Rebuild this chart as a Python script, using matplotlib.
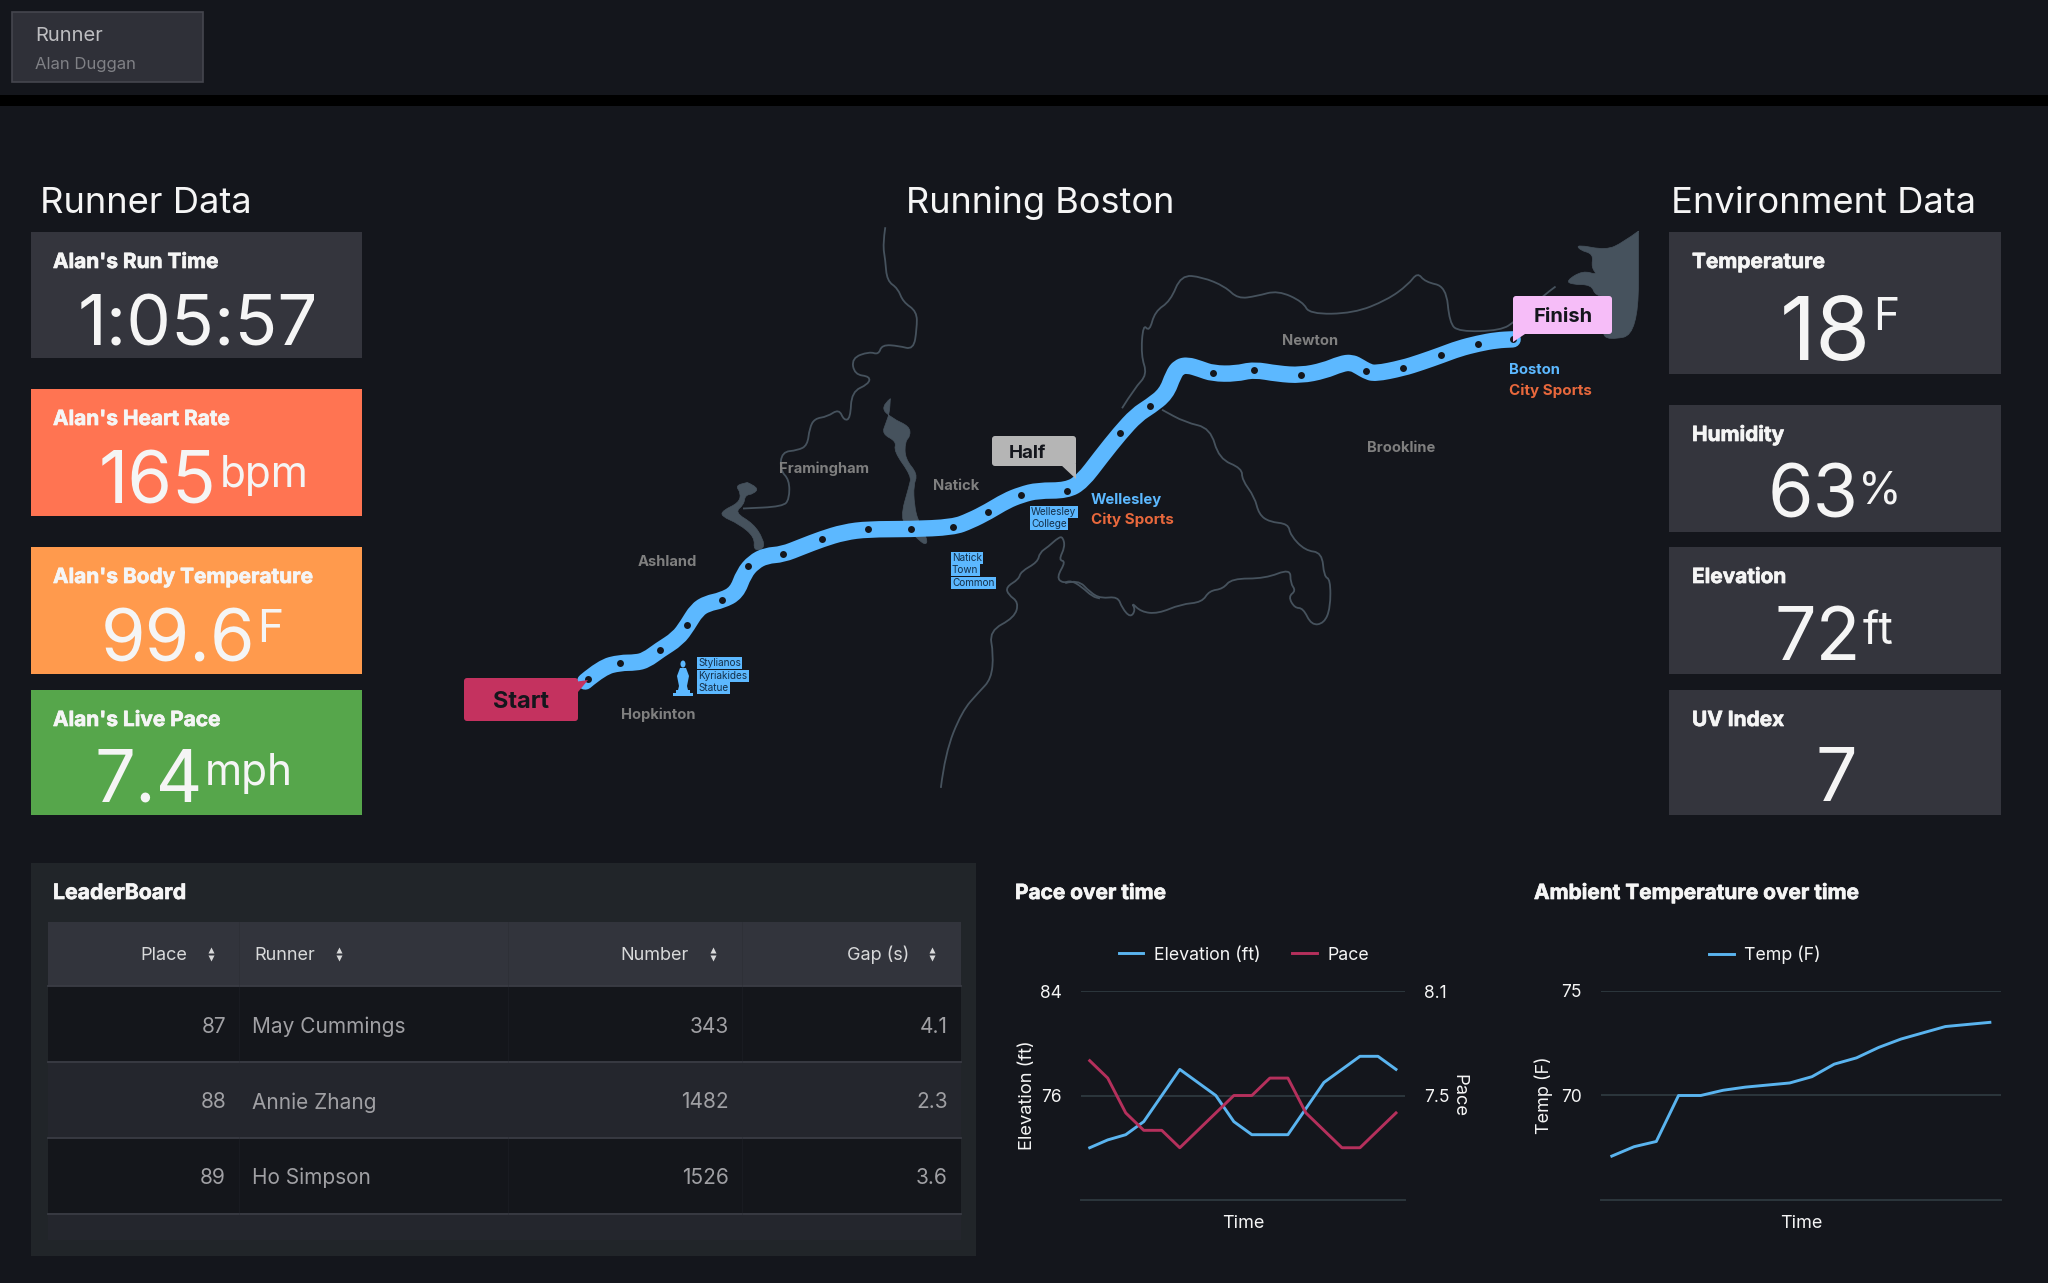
#!/usr/bin/env python3

import matplotlib
matplotlib.use("Agg")
import matplotlib.pyplot as plt
import matplotlib.patheffects as pe
from matplotlib.patches import FancyBboxPatch, Polygon, Rectangle, Ellipse, PathPatch
from matplotlib.path import Path

plt.rcParams['font.family'] = ['Inter', 'DejaVu Sans']

BG = '#14161c'
STAT_BG = '#34353d'
WHITE = '#f5f5f5'
BLUE = '#5cb8ff'
RED = '#c4325f'
ORANGE_TXT = '#e8683c'
GRID = '#2c363c'
RIVER = '#46525d'
WATER = '#46525d'
MAP_TXT = '#7f7f7f'

# pace chart
time_idx = list(range(18))
elevation = [72, 72.6, 73, 74, 76, 78, 77, 76, 74, 73, 73, 73, 75, 77, 78, 79, 79, 78]
pace = [7.7, 7.6, 7.4, 7.3, 7.3, 7.2, 7.3, 7.4, 7.5, 7.5, 7.6, 7.6, 7.4, 7.3, 7.2, 7.2, 7.3, 7.4]

# temperature chart
temp = [67.1, 67.55, 67.8, 70.0, 70.0, 70.25, 70.4, 70.5, 70.6, 70.9, 71.5, 71.8, 72.3, 72.7, 73.0, 73.3, 73.4, 73.5]

# leaderboard
places = ['87', '88', '89']
runners = ['May Cummings', 'Annie Zhang', 'Ho Simpson']
numbers = ['343', '1482', '1526']
gaps = ['4.1', '2.3', '3.6']

# stat panels
left_titles = ["Alan's Run Time", "Alan's Heart Rate", "Alan's Body Temperature", "Alan's Live Pace"]
left_values = ['1:05:57', '165', '99.6', '7.4']
left_units = ['', 'bpm', 'F', 'mph']
right_titles = ['Temperature', 'Humidity', 'Elevation', 'UV Index']
right_values = ['18', '63', '72', '7']
right_units = ['F', '%', 'ft', '']

route_l_x = [345, 385, 428, 465, 490, 522, 565, 588, 610, 635, 670, 705, 722, 745, 775, 814, 860, 907, 960, 1017, 1118, 1219, 1260, 1303, 1345, 1381, 1420, 1489]
route_l_y = [1232, 1195, 1183, 1183, 1176, 1150, 1120, 1085, 1045, 1028, 1020, 1000, 950, 920, 903, 900, 880, 860, 842, 834, 834, 829, 812, 788, 760, 744, 733, 733]
route_r_x = [195, 240, 285, 325, 357, 395, 412, 425, 445, 475, 505, 560, 603, 660, 715, 770, 810, 835, 855, 870, 890, 957, 1000, 1049, 1090, 1136, 1180, 1218]
route_r_y = [710, 645, 583, 535, 513, 480, 430, 410, 405, 415, 427, 428, 417, 428, 432, 420, 402, 398, 410, 420, 428, 413, 398, 379, 362, 349, 340, 338]
dots_l_x = [351, 428, 522, 588, 670, 732, 814, 907, 1017, 1118, 1219, 1303, 1381, 1489]
dots_l_y = [1225, 1183, 1150, 1085, 1020, 930, 900, 860, 834, 834, 829, 788, 744, 733]
dots_r_x = [285, 357, 505, 603, 715, 869, 957, 1049, 1136, 1218]
dots_r_y = [583, 513, 427, 417, 432, 420, 413, 379, 349, 338]

river_a_x = [1058, 1052, 1058, 1062, 1088, 1100, 1133, 1133, 1125, 1090, 1050, 1042, 1020, 978, 985, 1022, 1018, 978, 975, 960, 948, 920, 890, 878, 873, 850, 812, 808, 830, 830, 815, 720]
river_a_y = [45, 90, 130, 185, 205, 240, 265, 310, 365, 355, 352, 378, 370, 387, 430, 435, 455, 475, 545, 550, 520, 540, 545, 570, 615, 628, 632, 680, 705, 755, 775, 780]
river_b_x = [1190, 1200, 1240, 1280, 1310, 1315, 1305, 1365, 1375, 1350, 1345, 1375, 1380, 1420, 1425, 1445, 1470, 1480, 1485, 1470, 1487, 1465, 1480, 1500, 1525, 1550, 1568]
river_b_y = [1510, 1420, 1310, 1260, 1225, 1160, 1100, 1065, 1025, 1005, 985, 965, 945, 920, 895, 880, 855, 855, 880, 915, 918, 960, 975, 968, 985, 1010, 1015]
river_c_x = [155, 185, 215, 240, 280, 290, 310, 322, 312, 335, 375, 430, 480, 497, 530, 550, 630, 690, 690, 703, 685, 700, 720, 740, 770, 785, 785, 770, 765, 725, 690, 685, 640, 615, 605, 575, 575, 520, 500, 440, 385]
river_c_y = [975, 965, 1000, 1015, 1010, 1040, 1065, 1045, 1025, 1050, 1055, 1030, 1025, 995, 990, 963, 963, 937, 975, 995, 1010, 1040, 1040, 1085, 1080, 1040, 965, 958, 895, 890, 850, 820, 815, 795, 750, 705, 675, 650, 570, 555, 522]
river_d_x = [290, 320, 350, 335, 340, 355, 368, 405, 430, 480, 535, 565, 610, 660, 720, 735, 840, 920, 970, 992, 1010, 1060, 1068, 1090, 1190, 1225, 1290, 1320]
river_d_y = [518, 465, 430, 380, 298, 318, 265, 238, 170, 175, 200, 232, 225, 210, 240, 272, 270, 235, 195, 163, 188, 200, 295, 318, 315, 290, 225, 200]

lake_a_x = [1070, 1045, 1075, 1115, 1118, 1105, 1105, 1135, 1125, 1127, 1135, 1158, 1155, 1140, 1118, 1093, 1115, 1120, 1078, 1085, 1050, 1060, 1068]
lake_a_y = [493, 515, 545, 565, 590, 605, 650, 690, 720, 770, 810, 860, 875, 865, 840, 805, 720, 695, 630, 605, 585, 555, 530]
lake_b_x = [730, 758, 745, 725, 722, 700, 745, 768, 770, 745, 748, 710, 668, 672, 710, 715, 702]
lake_b_y = [712, 725, 742, 745, 770, 790, 820, 860, 885, 890, 855, 820, 800, 785, 765, 740, 720]
bay_x = [1517, 1480, 1440, 1370, 1378, 1410, 1405, 1420, 1385, 1345, 1360, 1405, 1415, 1453, 1453, 1430, 1445, 1517]
bay_y = [55, 85, 105, 90, 105, 115, 150, 170, 158, 185, 195, 195, 225, 225, 320, 320, 340, 325]

towns = ['Framingham', 'Natick', 'Ashland', 'Hopkinton']
towns_x = [912, 1227, 541, 519]
towns_y = [676, 721, 920, 1318]
towns_r = ['Newton', 'Brookline']
towns_r_x = [737, 952]
towns_r_y = [341, 621]

# heavier look for the bold panel titles
thick = [pe.withStroke(linewidth=0.5, foreground=WHITE)]


def left_pts(xs, ys):
    return [440 + x / 2.376 for x in xs], [210 + y / 2.613 for y in ys]


def right_pts(xs, ys):
    return [1000 + x / 2.376 for x in xs], [210 + y / 2.613 for y in ys]


def px_axes(x0, y0, x1, y1):
    return fig.add_axes([x0 / 2048, 1 - y1 / 1283, (x1 - x0) / 2048, (y1 - y0) / 1283])


def box(x0, y0, x1, y1, color, ec='none', lw=0, z=1):
    bg.add_patch(Rectangle((x0, y0), x1 - x0, y1 - y0, fc=color, ec=ec, lw=lw, zorder=z))


def rbox(x0, y0, x1, y1, color, z=6):
    bg.add_patch(FancyBboxPatch((x0 + 3, y0 + 3), x1 - x0 - 6, y1 - y0 - 6,
                                boxstyle='round,pad=3,rounding_size=3', fc=color, ec='none', zorder=z))


def soft_path(xs, ys):
    # quadratic curves with the read points as control points, so corners round off
    verts = [(xs[0], ys[0])]
    codes = [Path.MOVETO]
    for i in range(1, len(xs) - 1):
        verts.append((xs[i], ys[i]))
        verts.append(((xs[i] + xs[i + 1]) / 2, (ys[i] + ys[i + 1]) / 2))
        codes += [Path.CURVE3, Path.CURVE3]
    verts.append((xs[-1], ys[-1]))
    codes.append(Path.LINETO)
    return Path(verts, codes)


fig = plt.figure(figsize=(20.48, 12.83), dpi=100, facecolor=BG)
bg = fig.add_axes([0, 0, 1, 1])
bg.set_xlim(0, 2048)
bg.set_ylim(1283, 0)
bg.axis('off')

# top bar
box(0, 95, 2048, 106, '#000000')
box(12, 12, 203, 82, '#2f3038', ec='#45464e', lw=1.2)
bg.text(35, 36, 'Runner', color='#bdbdc0', fontsize=14.5, va='center')
bg.text(35, 64, 'Alan Duggan', color='#808186', fontsize=12, va='center')

# section titles
bg.text(40, 213, 'Runner Data', color=WHITE, fontsize=26.2, va='baseline')
bg.text(906, 213, 'Running Boston', color=WHITE, fontsize=26, va='baseline')
bg.text(1671, 213, 'Environment Data', color=WHITE, fontsize=26.2, va='baseline')

# left stat panels
left_tops = [232, 389, 547, 690]
left_bots = [358, 516, 674, 815]
left_colors = [STAT_BG, '#ff7452', '#ff9a4d', '#56a64b']
left_split = [None, 216, 255, 203]
left_up = [0, 16, 19, 17]
left_gap = [0, 4, 2, 2]
for i in range(4):
    box(31, left_tops[i], 362, left_bots[i], left_colors[i])
    bg.text(53, left_tops[i] + 36, left_titles[i], color=WHITE, fontsize=15, fontweight='bold', va='baseline', path_effects=thick)
    base = left_bots[i] - 13
    if left_split[i] is None:
        bg.text(198, base, left_values[i], color=WHITE, fontsize=51, ha='center', va='baseline')
    else:
        bg.text(left_split[i], base, left_values[i], color=WHITE, fontsize=52, ha='right', va='baseline')
        unit_size = 32 if left_units[i] == 'F' else 30.5
        bg.text(left_split[i] + left_gap[i], base - left_up[i], left_units[i], color=WHITE, fontsize=unit_size, va='baseline')

# right stat panels
right_tops = [232, 405, 547, 690]
right_bots = [374, 532, 674, 815]
right_split = [1871, 1859, 1861, None]
right_sizes = [64, 53, 53, 53]
right_up = [30, 15, 16, 0]
right_gap = [2, -1, 2, 0]
for i in range(4):
    box(1669, right_tops[i], 2001, right_bots[i], STAT_BG)
    bg.text(1692, right_tops[i] + 36, right_titles[i], color=WHITE, fontsize=15, fontweight='bold', va='baseline', path_effects=thick)
    base = right_bots[i] - 14
    if right_split[i] is None:
        bg.text(1836, base, right_values[i], color=WHITE, fontsize=right_sizes[i], ha='center', va='baseline')
    else:
        bg.text(right_split[i], base, right_values[i], color=WHITE, fontsize=right_sizes[i], ha='right', va='baseline')
        bg.text(right_split[i] + right_gap[i], base - right_up[i], right_units[i], color=WHITE, fontsize=32, va='baseline')

# map
for xs, ys, conv in ((river_a_x, river_a_y, left_pts), (river_b_x, river_b_y, left_pts),
                     (river_c_x, river_c_y, right_pts), (river_d_x, river_d_y, right_pts)):
    px, py = conv(xs, ys)
    bg.add_patch(PathPatch(soft_path(px, py), fc='none', ec=RIVER, lw=1.3, zorder=2))
for xs, ys, conv in ((lake_a_x, lake_a_y, left_pts), (lake_b_x, lake_b_y, left_pts), (bay_x, bay_y, right_pts)):
    px, py = conv(xs, ys)
    bg.add_patch(PathPatch(soft_path(px + px[:1], py + py[:1]), fc=WATER, ec=WATER, lw=0.5, zorder=2))

lx, ly = left_pts(route_l_x, route_l_y)
rx, ry = right_pts(route_r_x, route_r_y)
bg.add_patch(PathPatch(soft_path(lx + rx, ly + ry), fc='none', ec=BLUE, lw=11.8, capstyle='round', joinstyle='round', zorder=3))
lx, ly = left_pts(dots_l_x, dots_l_y)
rx, ry = right_pts(dots_r_x, dots_r_y)
bg.plot(lx + rx, ly + ry, ls='', marker='o', ms=5, color=BG, mec='none', zorder=4)

px, py = left_pts(towns_x, towns_y)
for name, x, y in zip(towns, px, py):
    bg.text(x, y, name, color=MAP_TXT, fontsize=10.6, fontweight='bold', ha='center', va='center', zorder=5)
px, py = right_pts(towns_r_x, towns_r_y)
for name, x, y in zip(towns_r, px, py):
    bg.text(x, y, name, color=MAP_TXT, fontsize=10.6, fontweight='bold', ha='center', va='center', zorder=5)

# start / half / finish tags
rbox(464, 678, 578, 721, RED)
bg.add_patch(Polygon([(574, 682), (588, 680), (578, 692)], fc=RED, ec='none', zorder=6))
bg.text(521, 702, 'Start', color='#14161c', fontsize=17, fontweight='bold', ha='center', va='center', zorder=7)
rbox(992, 436, 1076, 466, '#b5b5b5')
bg.add_patch(Polygon([(1060, 464), (1076, 464), (1076, 479)], fc='#b5b5b5', ec='none', zorder=6))
bg.text(1027, 454, 'Half', color='#14161c', fontsize=13.5, fontweight='bold', ha='center', va='center', zorder=7)
rbox(1513, 296, 1612, 334, '#f6bdf8')
bg.add_patch(Polygon([(1513, 325), (1528, 332), (1513, 342)], fc='#f6bdf8', ec='none', zorder=6))
bg.text(1563, 317, 'Finish', color='#14161c', fontsize=14.5, fontweight='bold', ha='center', va='center', zorder=7)

# blue and orange place names
bg.text(1091, 500, 'Wellesley', color=BLUE, fontsize=10.7, fontweight='bold', va='center', zorder=5)
bg.text(1091, 520, 'City Sports', color=ORANGE_TXT, fontsize=10.9, fontweight='bold', va='center', zorder=5)
bg.text(1509, 370, 'Boston', color=BLUE, fontsize=10.7, fontweight='bold', va='center', zorder=5)
bg.text(1509, 391, 'City Sports', color=ORANGE_TXT, fontsize=10.9, fontweight='bold', va='center', zorder=5)

# little landmark labels
marks = [(698, 663, 'Stylianos'), (698, 676, 'Kyriakides'), (698, 688, 'Statue'),
         (952, 558, 'Natick'), (952, 570, 'Town'), (952, 583, 'Common'),
         (1031, 512, 'Wellesley'), (1031, 524, 'College')]
for x, y, s in marks:
    bg.text(x, y, s, color='#14304a', fontsize=7.2, va='center', zorder=5,
            bbox=dict(fc=BLUE, ec='none', pad=1.0))

# statue icon
bg.add_patch(Ellipse((683, 664), 5, 7, fc=BLUE, ec='none', zorder=5))
bg.add_patch(Polygon([(680, 668), (686, 668), (689, 676), (687, 686), (688, 690), (678, 690), (679, 686), (677, 676)], fc=BLUE, ec='none', zorder=5))
bg.add_patch(Rectangle((676, 690), 14, 3, fc=BLUE, ec='none', zorder=5))
bg.add_patch(Rectangle((673, 693), 20, 3, fc=BLUE, ec='none', zorder=5))

# leaderboard
box(31, 863, 976, 1256, '#212529')
bg.text(53, 899, 'LeaderBoard', color=WHITE, fontsize=15.3, fontweight='bold', va='baseline', path_effects=thick)
box(47.5, 922, 960.5, 986, '#32343c', z=2)
box(47.5, 987, 960.5, 1061, '#14161b', z=2)
box(47.5, 1062, 960.5, 1137, '#24262d', z=2)
box(47.5, 1138, 960.5, 1213, '#14161b', z=2)
box(47.5, 1214, 960.5, 1240, '#24262d', z=2)
for y in (986, 1061.5, 1137.5, 1213.5):
    bg.plot([47.5, 960.5], [y, y], color='#3a3c44', lw=1.3, zorder=3)
for x in (239, 507.5, 742):
    bg.plot([x, x], [922, 1240], color='#26282f', lw=0.4, alpha=0.6, zorder=3)

header_names = ['Place', 'Runner', 'Number', 'Gap (s)']
header_x = [187, 254, 689, 909]
header_ha = ['right', 'left', 'right', 'right']
arrow_x = [210.5, 339, 712.5, 932]
for name, x, ha, ax_x in zip(header_names, header_x, header_ha, arrow_x):
    bg.text(x, 955, name, color='#d8d9da', fontsize=13, ha=ha, va='center', zorder=4)
    bg.plot([ax_x], [949.5], ls='', marker='^', ms=5, color='#d8d9da', mec='none', zorder=4)
    bg.plot([ax_x], [957.5], ls='', marker='v', ms=5, color='#d8d9da', mec='none', zorder=4)

row_y = [1027, 1102.5, 1178]
for i in range(3):
    bg.text(226, row_y[i], places[i], color='#a0a0a4', fontsize=15, ha='right', va='center', zorder=4)
    bg.text(252, row_y[i], runners[i], color='#a0a0a4', fontsize=15, ha='left', va='center', zorder=4)
    bg.text(729, row_y[i], numbers[i], color='#a0a0a4', fontsize=15, ha='right', va='center', zorder=4)
    bg.text(948, row_y[i], gaps[i], color='#a0a0a4', fontsize=15, ha='right', va='center', zorder=4)

# chart titles
bg.text(1015, 899, 'Pace over time', color=WHITE, fontsize=15, fontweight='bold', va='baseline', path_effects=thick)
bg.text(1534, 899, 'Ambient Temperature over time', color=WHITE, fontsize=15, fontweight='bold', va='baseline', path_effects=thick)


def style_axes(ax):
    ax.set_facecolor('none')
    for side in ('top', 'left', 'right'):
        ax.spines[side].set_visible(False)
    ax.spines['bottom'].set_color(GRID)
    ax.spines['bottom'].set_linewidth(1.4)
    ax.set_xticks([])
    ax.tick_params(axis='y', length=0, labelsize=12.5, labelcolor=WHITE, pad=13.5)
    ax.set_xlim(-0.5, 17.5)


# pace chart
ax1 = px_axes(1080.7, 991, 1405, 1200)
style_axes(ax1)
ax1.set_axisbelow(True)
ax1.grid(axis='y', color=GRID, lw=1.4)
l1, = ax1.plot(time_idx, elevation, color='#5ab4ef', lw=2.1, label='Elevation (ft)', solid_joinstyle='round')
ax1.set_ylim(68, 84)
ax1.set_yticks([76, 84])
ax1.set_ylabel('Elevation (ft)', color=WHITE, fontsize=13.2, labelpad=3)
ax1.set_xlabel('Time', color=WHITE, fontsize=13, labelpad=10.5)

ax2 = ax1.twinx()
style_axes(ax2)
ax2.spines['bottom'].set_visible(False)
l2, = ax2.plot(time_idx, pace, color='#b5305c', lw=2.1, label='Pace', solid_joinstyle='round')
ax2.set_ylim(6.9, 8.1)
ax2.set_yticks([7.5, 8.1])
ax2.set_ylabel('Pace', color=WHITE, fontsize=13.2, rotation=270, labelpad=13)
ax1.legend(handles=[l1, l2], loc='center', bbox_to_anchor=(0.503, 1.172), ncol=2, frameon=False,
           fontsize=12.8, labelcolor=WHITE, handlelength=1.4, handletextpad=0.6, columnspacing=1.75)

# temperature chart
ax3 = px_axes(1600.7, 991, 2001, 1200)
style_axes(ax3)
ax3.set_axisbelow(True)
ax3.grid(axis='y', color=GRID, lw=1.4)
l3, = ax3.plot(time_idx, temp, color='#5ab4ef', lw=2.1, label='Temp (F)', solid_joinstyle='round')
ax3.set_ylim(65, 75)
ax3.set_yticks([70, 75])
ax3.set_ylabel('Temp (F)', color=WHITE, fontsize=13, labelpad=6)
ax3.set_xlabel('Time', color=WHITE, fontsize=13, labelpad=10.5)
ax3.legend(handles=[l3], loc='center', bbox_to_anchor=(0.41, 1.172), frameon=False,
           fontsize=12.8, labelcolor=WHITE, handlelength=1.4, handletextpad=0.6)

fig.savefig('out.png', dpi=100, facecolor=BG)
